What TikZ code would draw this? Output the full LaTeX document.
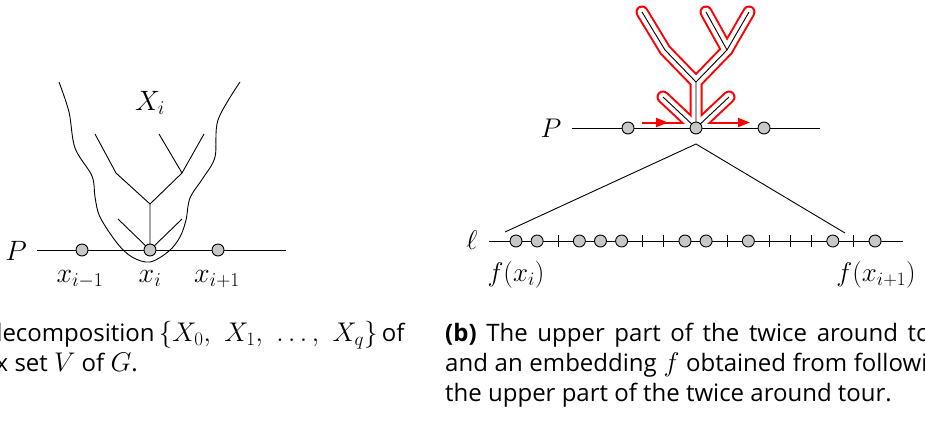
\RequirePackage{fix-cm}
\documentclass[tikz,border=0pt]{standalone}
\usepackage{fontspec}
\setsansfont{Open Sans}
\DeclareMathSizes{24}{27}{19}{14}
\usetikzlibrary{arrows.meta}
\tikzset{
  vtx/.style={circle,draw=black,fill=black!22,line width=0.9pt,minimum size=12pt,inner sep=0pt},
  lineseg/.style={line width=0.9pt},
  biglab/.style={font=\fontsize{28}{32}\selectfont,inner sep=0pt},
  midlab/.style={font=\fontsize{27}{30}\selectfont,inner sep=0pt},
  captext/.style={font=\sffamily\fontsize{24}{30}\selectfont,inner sep=0pt},
  tickmark/.style={line width=0.9pt},
  tourouter/.style={red,line width=13pt,line join=round},
  tourinner/.style={white,line width=9pt,line join=round},
  tourarrow/.style={red,line width=2pt,-{Triangle[length=12pt,width=9pt]}}
}
\begin{document}
\begin{tikzpicture}[x=1pt,y=-1pt]
\useasboundingbox (0,0) rectangle (925,421);
\clip (0,0) rectangle (925,421);

% ================= left figure =================
\coordinate (Pl0) at (37,250);
\coordinate (Pl1) at (286,250);
\draw[lineseg] (Pl0) -- (Pl1);
\node[biglab] (Pla) at (16,251) {$P$};
% outer curve
\draw[lineseg] plot[smooth,tension=0.55] coordinates {(59,82) (69,112) (75,148) (92,176) (95,197) (100,217) (117,243) (132,257) (150,262) (169,251) (180,237) (186,220) (190,198) (203,178) (215,157) (218,120) (240,82)};
% tree
\coordinate (a0) at (150,250);
\coordinate (a1) at (150,204);
\coordinate (aL) at (116,173);
\coordinate (aLL) at (95,134);
\coordinate (aR) at (182,173);
\coordinate (aRL) at (159,134);
\coordinate (aRR) at (204,134);
\coordinate (aSL) at (118,219);
\coordinate (aSR) at (182,219);
\draw[lineseg] (a0) -- (a1) -- (aL) -- (aLL);
\draw[lineseg] (a1) -- (aR) -- (aRR);
\draw[lineseg] (aR) -- (aRL);
\draw[lineseg] (a0) -- (aSL);
\draw[lineseg] (a0) -- (aSR);
\node[vtx] (xm) at (82,250) {};
\node[vtx] (xi) at (a0) {};
\node[vtx] (xp) at (218,250) {};
\node[biglab,anchor=base] (Xi) at (150,110) {$X_i$};
\node[biglab,anchor=base] (lxm) at (80,282) {$x_{i-1}$};
\node[biglab,anchor=base] (lxi) at (150,282) {$x_i$};
\node[biglab,anchor=base] (lxp) at (217,282) {$x_{i+1}$};

% ================= right figure =================
\coordinate (b0) at (696,128);
\coordinate (b1) at (696,82);
\coordinate (bL) at (665,50);
\coordinate (bLL) at (642,12);
\coordinate (bR) at (727,50);
\coordinate (bRL) at (706,12);
\coordinate (bRR) at (749,12);
\coordinate (bSL) at (663,97);
\coordinate (bSR) at (729,97);
\coordinate (tA) at (642,128);
\coordinate (tB) at (742,128);
% twice around tour (outline of the thickened tree)
\begin{scope}
  \clip (600,0) rectangle (800,125.5);
  \foreach \s in {tourouter,tourinner}{
    \draw[\s,line cap=round] (b0) -- (b1) -- (bL) -- (bLL);
    \draw[\s,line cap=round] (b1) -- (bR) -- (bRR);
    \draw[\s,line cap=round] (bR) -- (bRL);
    \draw[\s,line cap=round] (b0) -- (bSL);
    \draw[\s,line cap=round] (b0) -- (bSR);
    \draw[\s,line cap=butt] (tA) -- (tB);
  }
\end{scope}
\coordinate (arL0) at (650,122.5);
\coordinate (arL1) at (668,122.5);
\coordinate (arR0) at (735,122.5);
\coordinate (arR1) at (750,122.5);
\draw[tourarrow] (arL0) -- (arL1);
\draw[tourarrow] (arR0) -- (arR1);
% P line and tree
\coordinate (Pr0) at (572,128);
\coordinate (Pr1) at (820,128);
\draw[lineseg] (Pr0) -- (Pr1);
\draw[lineseg] (b0) -- (b1) -- (bL) -- (bLL);
\draw[lineseg] (b1) -- (bR) -- (bRR);
\draw[lineseg] (bR) -- (bRL);
\draw[lineseg] (b0) -- (bSL);
\draw[lineseg] (b0) -- (bSR);
\node[vtx] (ym) at (628,128) {};
\node[vtx] (yi) at (b0) {};
\node[vtx] (yp) at (764,128) {};
\node[midlab] (Pra) at (551,128) {$P$};
% projection lines
\coordinate (apex) at (696,144);
\coordinate (fl) at (505,232);
\coordinate (fr) at (845,233);
\draw[lineseg] (fl) -- (apex) -- (fr);
% line ell
\coordinate (l0) at (489,241);
\coordinate (l1) at (903,241);
\draw[lineseg] (l0) -- (l1);
\node[midlab] (ell) at (472,240) {$\ell$};
\foreach \k/\t in {0/v,1/v,2/t,3/v,4/v,5/v,6/t,7/t,8/v,9/v,10/t,11/v,12/t,13/t,14/t,15/v,16/t,17/v}{
  \pgfmathsetmacro{\xx}{516+\k*21.12}
  \if\t v
    \node[vtx] (e\k) at (\xx,241) {};
  \else
    \coordinate (e\k) at (\xx,241);
    \draw[tickmark] ([yshift=-6pt]e\k) -- ([yshift=6pt]e\k);
  \fi
}
\node[midlab,anchor=base] (fxi) at (516,281) {$f(x_i)$};
\node[midlab,anchor=base] (fxp) at (876,281) {$f(x_{i+1})$};

% ================= captions =================
\node[captext,anchor=base east] (ca1) at (400,341) {\makebox[412pt][s]{decomposition $\{X_0,\hspace{9pt} X_1,\hspace{9pt} \ldots,\hspace{9pt} X_q\}$ of}};
\node[captext,anchor=base east] (ca2) at (138,371) {vertex set $V$ of $G$.};
\node[captext,anchor=base west] (cb1) at (445,341) {\makebox[510pt][s]{\textbf{(b)} The upper part of the twice around tour}};
\node[captext,anchor=base west] (cb2) at (445,371) {\makebox[510pt][s]{and an embedding $f$ obtained from following}};
\node[captext,anchor=base west] (cb3) at (445,401) {the upper part of the twice around tour.};
\end{tikzpicture}
\end{document}
